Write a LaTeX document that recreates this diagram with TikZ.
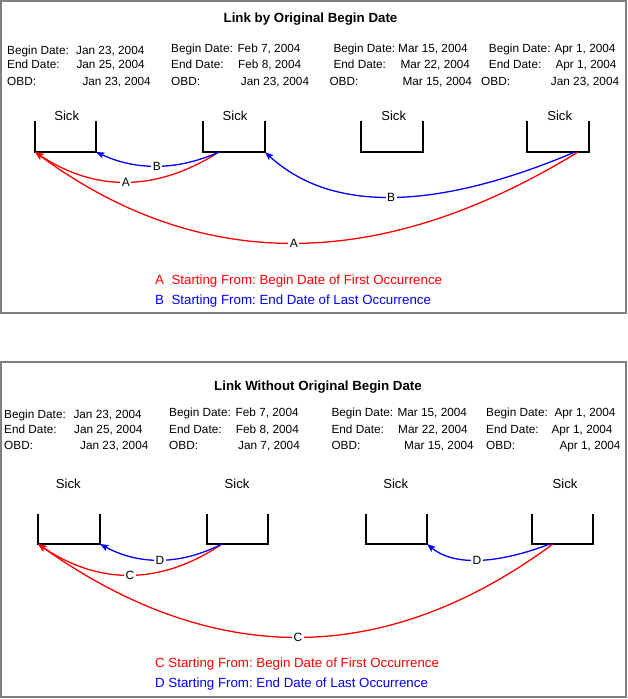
\documentclass[tikz,border=0pt]{standalone}
\usepackage{fontspec}
\setmainfont{Liberation Sans}
\usetikzlibrary{arrows.meta}
\definecolor{lred}{RGB}{255,0,0}
\definecolor{lblue}{RGB}{0,0,255}
\definecolor{frameGray}{RGB}{128,128,128}
\frenchspacing
\newcommand\inforow[6]{%
  \node[info] (#1l) at (#3,#2) {#4};
  \node[info] (#1d) at (#5,#2) {#6};}
\begin{document}
\begin{tikzpicture}[x=1pt,y=-1pt,
  panel/.style={draw=frameGray, line width=1.5pt},
  titletext/.style={anchor=base, font=\fontsize{13.3}{15}\selectfont\bfseries, inner sep=0pt},
  info/.style={anchor=base west, font=\fontsize{11.8}{14}\selectfont, inner sep=0pt},
  sicklbl/.style={anchor=base, font=\fontsize{13.1}{15}\selectfont, inner sep=0pt},
  bracket/.style={draw=black, line width=1.4pt},
  link/.style={line width=1.3pt, -{Stealth[length=8.5pt,width=6.5pt,inset=2pt]}},
  redlink/.style={link, draw=lred, color=lred},
  bluelink/.style={link, draw=lblue, color=lblue},
  lbl/.style={fill=white, inner sep=1.5pt, font=\fontsize{12}{14}\selectfont, text=black},
  legend/.style={anchor=base west, font=\fontsize{13.3}{15}\selectfont, inner sep=0pt}]

\useasboundingbox (0,0) rectangle (627,699);

% ================= TOP PANEL =================
\draw[panel] (1,1) rectangle (626,313);
\node[titletext] (title1) at (310.5,22.8) {Link by Original Begin Date};

\inforow{ta1}{54.5}{7}{Begin Date:}{76}{Jan 23, 2004}
\inforow{ta2}{68.8}{7}{End Date:}{76.3}{Jan 25, 2004}
\inforow{ta3}{85.2}{7}{OBD:}{82.3}{Jan 23, 2004}

\inforow{tb1}{52.5}{171}{Begin Date:}{237.3}{Feb 7, 2004}
\inforow{tb2}{68.8}{171}{End Date:}{238}{Feb 8, 2004}
\inforow{tb3}{85.2}{171}{OBD:}{240.7}{Jan 23, 2004}

\inforow{tc1}{52.5}{333.3}{Begin Date:}{398}{Mar 15, 2004}
\inforow{tc2}{68.8}{333.3}{End Date:}{400.3}{Mar 22, 2004}
\inforow{tc3}{85.2}{329.3}{OBD:}{402.3}{Mar 15, 2004}

\inforow{td1}{52.5}{488.7}{Begin Date:}{554.3}{Apr 1, 2004}
\inforow{td2}{68.8}{488.7}{End Date:}{555.3}{Apr 1, 2004}
\inforow{td3}{85.2}{481}{OBD:}{550.7}{Jan 23, 2004}

\node[sicklbl] (ts1) at (66.7,120.5) {Sick};
\node[sicklbl] (ts2) at (235,120.5) {Sick};
\node[sicklbl] (ts3) at (393.7,120.5) {Sick};
\node[sicklbl] (ts4) at (559.7,120.5) {Sick};

\coordinate (t1l) at (35,152);  \coordinate (t1r) at (96,152);
\coordinate (t2l) at (203,152); \coordinate (t2r) at (265,152);
\coordinate (t3l) at (361,152); \coordinate (t3r) at (423,152);
\coordinate (t4l) at (527,152); \coordinate (t4r) at (589,152);
\draw[bracket] (35,121) -- (t1l) -- (t1r) -- (96,121);
\draw[bracket] (203,121) -- (t2l) -- (t2r) -- (265,121);
\draw[bracket] (361,121) -- (t3l) -- (t3r) -- (423,121);
\draw[bracket] (527,121) -- (t4l) -- (t4r) -- (589,121);

\coordinate (t2s) at (219,152);
\coordinate (t4sb) at (575,152);
\coordinate (t4sa) at (578,152);

\draw[redlink] (t4sa) .. controls (380.3,273.3) and (199.3,273.3) .. node[lbl] (ta2lbl) {A} (t1l);
\draw[redlink] (t2s) .. controls (156.3,192) and (95,192) .. node[lbl] (ta1lbl) {A} (t1l);
\draw[bluelink] (t4sb) .. controls (433,212) and (329.7,212) .. node[lbl] (tb2lbl) {B} (t2r);
\draw[bluelink] (t2s) .. controls (177.3,170.7) and (136.3,170.7) .. node[lbl] (tb1lbl) {B} (t1r);

\node[legend, text=lred] (tlegA) at (155,284) {A\hspace{7.5pt}Starting From: Begin Date of First Occurrence};
\node[legend, text=lblue] (tlegB) at (155,304) {B\hspace{7.5pt}Starting From: End Date of Last Occurrence};

% ================= BOTTOM PANEL =================
\draw[panel] (1,362) rectangle (626,697);
\node[titletext] (title2) at (318,390.2) {Link Without Original Begin Date};

\inforow{ba1}{418.2}{4}{Begin Date:}{73.3}{Jan 23, 2004}
\inforow{ba2}{433.2}{4}{End Date:}{74}{Jan 25, 2004}
\inforow{ba3}{449.2}{4}{OBD:}{80}{Jan 23, 2004}

\inforow{bb1}{416.5}{169}{Begin Date:}{235.5}{Feb 7, 2004}
\inforow{bb2}{433.2}{169}{End Date:}{235.7}{Feb 8, 2004}
\inforow{bb3}{449.2}{169}{OBD:}{238}{Jan 7, 2004}

\inforow{bc1}{416.5}{331.3}{Begin Date:}{397.3}{Mar 15, 2004}
\inforow{bc2}{433.2}{331.3}{End Date:}{398}{Mar 22, 2004}
\inforow{bc3}{449.2}{331.3}{OBD:}{404}{Mar 15, 2004}

\inforow{bd1}{416.5}{486}{Begin Date:}{554.3}{Apr 1, 2004}
\inforow{bd2}{433.2}{486}{End Date:}{551.3}{Apr 1, 2004}
\inforow{bd3}{449.2}{486}{OBD:}{559.3}{Apr 1, 2004}

\node[sicklbl] (bs1) at (68.3,488) {Sick};
\node[sicklbl] (bs2) at (237,488) {Sick};
\node[sicklbl] (bs3) at (395.7,488) {Sick};
\node[sicklbl] (bs4) at (565,488) {Sick};

\coordinate (b1l) at (38,544);  \coordinate (b1r) at (100,544);
\coordinate (b2l) at (207,544); \coordinate (b2r) at (268,544);
\coordinate (b3l) at (366,544); \coordinate (b3r) at (427,544);
\coordinate (b4l) at (532,544); \coordinate (b4r) at (593,544);
\draw[bracket] (38,514) -- (b1l) -- (b1r) -- (100,514);
\draw[bracket] (207,514) -- (b2l) -- (b2r) -- (268,514);
\draw[bracket] (366,514) -- (b3l) -- (b3r) -- (427,514);
\draw[bracket] (532,514) -- (b4l) -- (b4r) -- (593,514);

\coordinate (b2s) at (222,544);
\coordinate (b4sd) at (550,544);
\coordinate (b4sc) at (553,544);

\draw[redlink] (b4sc) .. controls (384.7,668) and (213,668) .. node[lbl] (bc2lbl) {C} (b1l);
\draw[redlink] (b2s) .. controls (160.7,585.3) and (99.3,585.3) .. node[lbl] (bc1lbl) {C} (b1l);
\draw[bluelink] (b2s) .. controls (180,565.3) and (139.3,565.3) .. node[lbl] (bd1lbl) {D} (b1r);
\draw[bluelink] (b4sd) .. controls (493.7,565.3) and (452.7,565.3) .. node[lbl] (bd2lbl) {D} (b3r);

\node[legend, text=lred] (blegC) at (155,667.7) {C Starting From: Begin Date of First Occurrence};
\node[legend, text=lblue] (blegD) at (155,687.7) {D Starting From: End Date of Last Occurrence};
\end{tikzpicture}
\end{document}
